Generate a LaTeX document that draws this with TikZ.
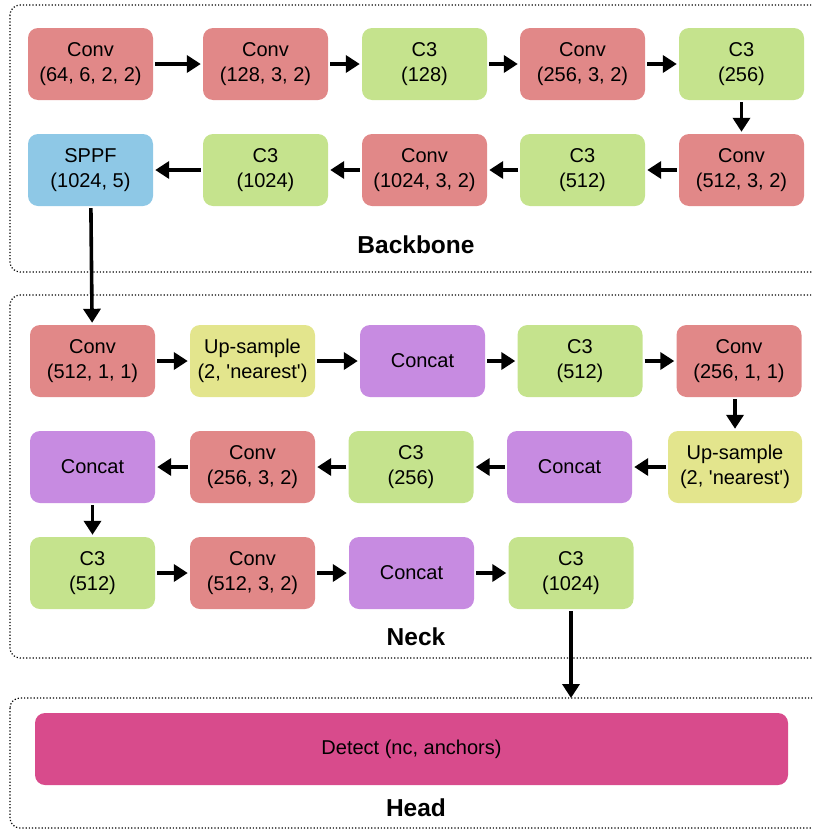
\documentclass[tikz,border=0pt]{standalone}
\usepackage{fontspec}
\setmainfont{Liberation Sans}
\usetikzlibrary{arrows.meta}
\definecolor{convc}{RGB}{225,136,136}
\definecolor{cthree}{RGB}{197,227,141}
\definecolor{upc}{RGB}{227,229,141}
\definecolor{catc}{RGB}{199,139,225}
\definecolor{sppfc}{RGB}{142,200,230}
\definecolor{detc}{RGB}{216,75,140}
\newcommand{\sq}{\textquotesingle}
\tikzset{
  blk/.style={fill=#1, draw=none, rounded corners=10pt, minimum width=125pt, minimum height=72pt,
    align=center, inner sep=0pt, font=\fontsize{20}{25}\selectfont},
  arr/.style={line width=3.6pt, -{Triangle[length=14pt,width=17pt]}, shorten <=2pt, shorten >=2pt},
  panel/.style={dotted, line width=1.2pt, rounded corners=10pt},
  ttl/.style={font=\fontsize{24.5}{28}\bfseries\selectfont}
}
\begin{document}
\begin{tikzpicture}[x=1pt,y=-1pt]
\useasboundingbox (0,0) rectangle (812,830);
\clip (0,0) rectangle (812,830);
% panels
\draw[panel] (10,5) rectangle (840,272);
\draw[panel] (10,295) rectangle (840,658);
\draw[panel] (10,698) rectangle (840,828);
% backbone
\node[blk=convc] (b1) at (90.5,64) {Conv\\(64, 6, 2, 2)};
\node[blk=convc] (b2) at (265.5,64) {Conv\\(128, 3, 2)};
\node[blk=cthree] (b3) at (424.5,64) {C3\\(128)};
\node[blk=convc] (b4) at (582.5,64) {Conv\\(256, 3, 2)};
\node[blk=cthree] (b5) at (741.5,64) {C3\\(256)};
\node[blk=convc] (b6) at (741.5,170) {Conv\\(512, 3, 2)};
\node[blk=cthree] (b7) at (582.5,170) {C3\\(512)};
\node[blk=convc] (b8) at (424.5,170) {Conv\\(1024, 3, 2)};
\node[blk=cthree] (b9) at (265.5,170) {C3\\(1024)};
\node[blk=sppfc] (b10) at (90.5,170) {SPPF\\(1024, 5)};
\node[ttl] (tb) at (416,245) {Backbone};
% neck
\node[blk=convc] (n1) at (92.5,361) {Conv\\(512, 1, 1)};
\node[blk=upc] (n2) at (252.5,361) {Up-sample\\(2, \sq nearest\sq)};
\node[blk=catc] (n3) at (422.5,361) {Concat};
\node[blk=cthree] (n4) at (580,361) {C3\\(512)};
\node[blk=convc] (n5) at (739,361) {Conv\\(256, 1, 1)};
\node[blk=upc, minimum width=134pt] (n6) at (735,467) {Up-sample\\(2, \sq nearest\sq)};
\node[blk=catc] (n7) at (569.5,467) {Concat};
\node[blk=cthree] (n8) at (411,467) {C3\\(256)};
\node[blk=convc] (n9) at (252.5,467) {Conv\\(256, 3, 2)};
\node[blk=catc] (n10) at (92.5,467) {Concat};
\node[blk=cthree] (n11) at (92.5,573) {C3\\(512)};
\node[blk=convc] (n12) at (252.5,573) {Conv\\(512, 3, 2)};
\node[blk=catc] (n13) at (411.5,573) {Concat};
\node[blk=cthree] (n14) at (571,573) {C3\\(1024)};
\node[ttl] (tn) at (416,637) {Neck};
% head
\node[blk=detc, minimum width=753pt] (h1) at (411.5,749) {Detect (nc, anchors)};
\node[ttl] (th) at (416,808) {Head};
\coordinate (hin) at (571,698);
% arrows
\draw[arr] (b1) -- (b2);
\draw[arr] (b2) -- (b3);
\draw[arr] (b3) -- (b4);
\draw[arr] (b4) -- (b5);
\draw[arr] (b5) -- (b6);
\draw[arr] (b6) -- (b7);
\draw[arr] (b7) -- (b8);
\draw[arr] (b8) -- (b9);
\draw[arr] (b9) -- (b10);
\draw[arr] (b10) -- (n1);
\draw[arr] (n1) -- (n2);
\draw[arr] (n2) -- (n3);
\draw[arr] (n3) -- (n4);
\draw[arr] (n4) -- (n5);
\draw[arr] (n5.south -| n6) -- (n6);
\draw[arr] (n6) -- (n7);
\draw[arr] (n7) -- (n8);
\draw[arr] (n8) -- (n9);
\draw[arr] (n9) -- (n10);
\draw[arr] (n10) -- (n11);
\draw[arr] (n11) -- (n12);
\draw[arr] (n12) -- (n13);
\draw[arr] (n13) -- (n14);
\draw[arr, shorten >=0pt] (n14) -- (hin);
\end{tikzpicture}
\end{document}
